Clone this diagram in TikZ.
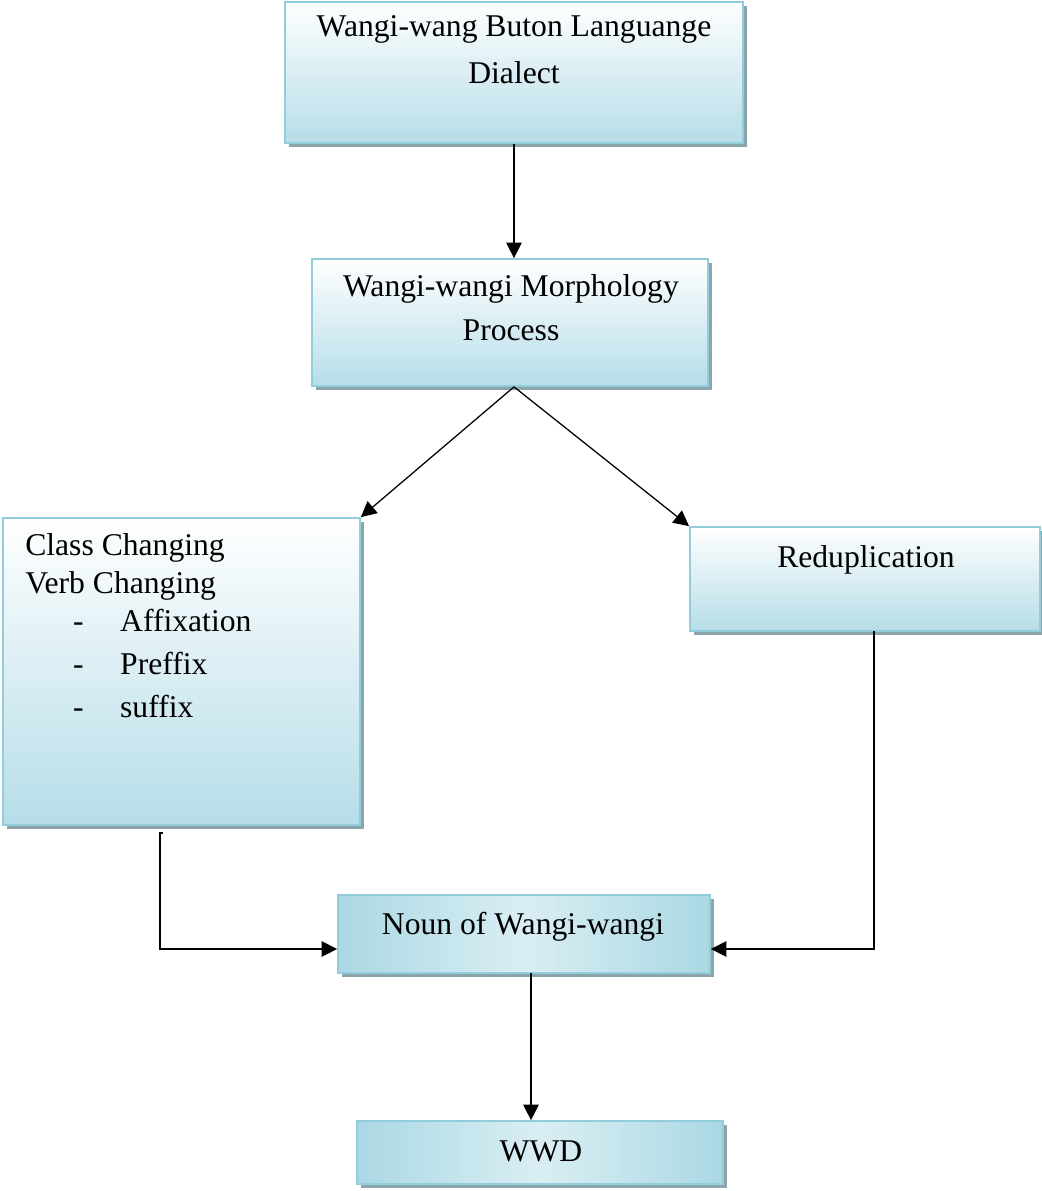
\documentclass[tikz,border=0pt]{standalone}
\usepackage{fontspec}
\setmainfont{Liberation Serif}
\usetikzlibrary{shadows,arrows.meta}
\definecolor{boxline}{HTML}{92CDDC}
\definecolor{boxfill}{HTML}{B6DDE8}
\definecolor{boxshadow}{HTML}{8CA5AD}
\definecolor{boxmid}{HTML}{DAEEF3}
\definecolor{boxedge}{HTML}{AAD8E4}
\newcommand{\listdash}[1]{\hspace*{34pt}\makebox[33.5pt][l]{-}#1}

\begin{document}
\begin{tikzpicture}[x=0.025cm,y=-0.025cm]
	\tikzstyle{box} = [draw=boxline, line width=1.2pt, top color=white, bottom color=boxfill, drop shadow={shadow xshift=2.8pt, shadow yshift=-2.8pt, fill=boxshadow, opacity=1}, inner sep=0pt]
	\tikzstyle{flatbox} = [box, left color=boxedge, right color=boxedge, middle color=boxmid]
	\tikzstyle{txt} = [font=\fontsize{22.5pt}{31pt}\selectfont, inner sep=0pt, anchor=base, align=center]
	\tikzstyle{edge} = [draw=black, line width=0.9pt, -{Triangle[length=11pt,width=11pt]}]
	\useasboundingbox (0,0) rectangle (1041,1191);
		% boxes
		\node[box, minimum width=11.45cm, minimum height=3.525cm] (dialect) at (514,72.5) {};
		\node[box, minimum width=9.9cm, minimum height=3.175cm] (morph) at (510,322.5) {};
		\node[box, minimum width=8.925cm, minimum height=7.675cm] (class) at (181.5,671.5) {};
		\node[box, minimum width=8.75cm, minimum height=2.6cm] (redup) at (865,579) {};
		\node[flatbox, minimum width=9.3cm, minimum height=1.95cm] (noun) at (524,934) {};
		\node[flatbox, minimum width=9.15cm, minimum height=1.575cm] (wwd) at (540,1152.5) {};
		% texts (base = last line)
		\node[txt] (dialecttext) at (514,83) {Wangi-wang Buton Languange\\[2pt]Dialect};
		\node[txt] (morphtext) at (511,340) {Wangi-wangi Morphology\\Process};
		\node[txt, anchor=base west, align=left, font=\fontsize{22.5pt}{27pt}\selectfont] (classtext) at (25,717)
			{Class Changing\\Verb Changing\\\listdash{Affixation}\\[4pt]\listdash{Preffix}\\[3pt]\listdash{suffix}};
		\node[txt] (reduptext) at (866,567) {Reduplication};
		\node[txt] (nountext) at (523,934) {Noun of Wangi-wangi};
		\node[txt] (wwdtext) at (541,1161) {WWD};
		% connectors
		\coordinate (fork) at (morph.south -| dialect.south);
		\coordinate (classout) at (160,833);
		\coordinate (redupout) at (874,631);
		\coordinate (nounin) at (0,949);
		\coordinate (stem) at (531,973);
  	\draw[edge] (dialect.south) -- (dialect.south |- morph.north);
  	\draw[edge] (fork) -- (class.north east);
  	\draw[edge] (fork) -- (redup.north west);
  	\draw[edge] ([xshift=2pt]classout) -- (classout) |- (nounin -| noun.west);
  	\draw[edge] (redupout) |- (nounin -| noun.east);
  	\draw[edge] (stem) -- (stem |- wwd.north);
	\end{tikzpicture}
\end{document}
